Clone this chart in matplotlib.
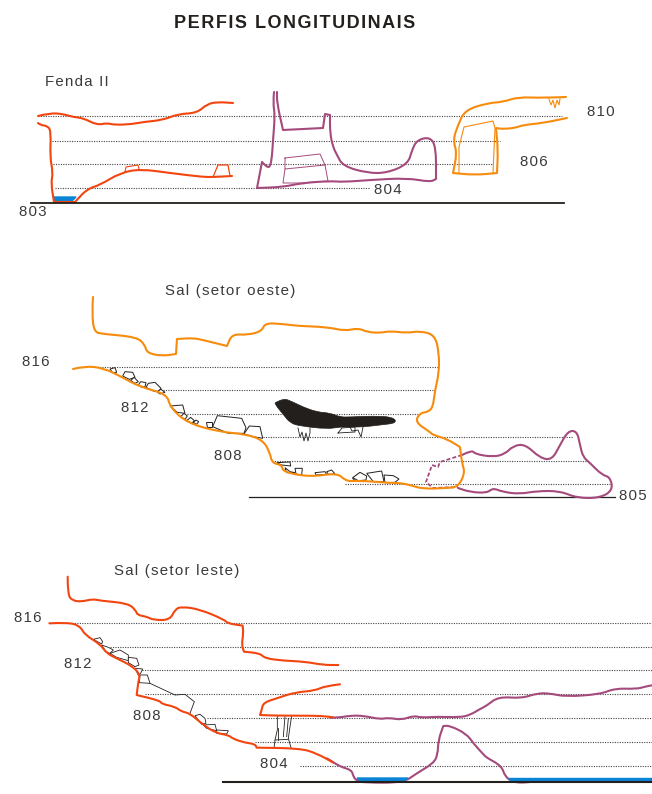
# Cave longitudinal profiles, traced by hand from the survey sheet
import numpy as np
import matplotlib
matplotlib.use("Agg")
import matplotlib.pyplot as plt
from matplotlib.path import Path
from matplotlib.patches import PathPatch

plt.rcParams['font.family'] = ['Liberation Sans', 'DejaVu Sans']

RED = '#F2450F'
PURPLE = '#A54A7C'
ORANGE = '#F68B0C'
BLUE = '#0A84D6'
INK = '#231F1C'
TEXT = '#3A3A3A'


# traces read off zoomed crops, crop() puts them back on the sheet pixels
# a point given twice is a hard corner in the drawing
def crop(pts, x0, y0):
    return [(x0 + p[0] / 3, y0 + p[1] / 3) for p in pts]


# ---- Fenda II ----
fenda_ceiling = [(38,116),(50,113),(63,114),(73,117),(83,118),(97,125),(107,123),(115,125),(133,124),
                 (143,122),(163,120),(178,114),(197,113),(207,104),(218,102),(233,103)]
fenda_floor = [(38,123),(40,125),(48,126),(51,132),(50,157),(53,173),(51,183),(54,202),(54,202),(75,202),(75,202),
               (87,189),(100,185),(120,173),(140,169),(170,173),(203,177),(213,177),(232,176)]
fenda_box1 = [(125,172),(126,167),(138,165),(139,169)]
fenda_box2 = [(213,177),(218,165),(228,165),(230,176)]
fenda_water = [(54,197),(76,197),(72,201),(55,201)]
p804 = [(274,92),(273,103),(275,115),(273,140),(272,157),(270,167),(267,167),(262,162),(262,162),(257,188),(257,188),
        (283,187),(302,183),(330,181),(343,182),(370,180),(407,178),(430,182),(436,179),(436,179),(436,147),(430,137),
        (417,140),(412,150),(408,164),(387,173),(367,173),(343,166),(337,155),(333,147),(330,133),(330,115),(330,115),
        (325,114),(325,114),(323,128),(323,128),(283,130),(283,130),(277,103),(277,92)]
p804_inner1 = [(285,158),(320,154),(325,165),(285,169),(285,158)]
p804_inner2 = [(285,169),(283,183),(302,183),(328,181),(325,165)]
p810 = [(566,97),(543,98),(518,97),(503,102),(488,103),(465,110),(458,125),(453,140),(457,153),(453,173),(453,173),
        (475,175),(497,173),(497,173),(498,150),(496,128),(496,128),(502,129),(515,128),(523,125),(543,123),(567,118)]
p806_inner = [(459,173),(459,147),(464,127),(493,121),(495,128),(493,173)]
p810_drip = [(549,99),(551,105),(553,100),(555,108),(557,100),(559,105),(560,99)]

# ---- Sal (setor oeste) ----
oeste_ceiling = [(93,297),(92,313),(94,332),(103,334),(137,337),(145,345),(147,353),(162,356),(176,354),(176,354),
                 (177,339),(177,339),(193,338),(203,340),(227,346),(227,346),(232,334),(248,335),(262,331),(265,323),
                 (283,324),(298,326),(327,327),(345,331),(358,328),(367,332),(380,333),(390,331),(407,333),(420,331),
                 (435,335),(439,353),(439,373),(435,390),(433,407),(428,412),(420,413),(415,422),(430,432),
                 (433,435),(447,439),(460,447),(460,447),(462,463),(465,473),(458,487),(447,488),(423,489),(410,485),
                 (400,483),(390,483),(367,481),(350,481)]
oeste_floor = [(73,369),(85,366),(103,368),(120,376),(140,387),(167,394),(170,407),(187,423),(220,432),
               (245,434),(263,440),(270,453),(272,463),(282,465),(283,472),(310,477),(337,473),(345,480),(350,481)]
p805 = [(462,455),(472,450),(475,454),(493,457),(505,454),(513,446),(525,444),(540,458),(552,460),(560,445),
        (568,431),(577,431),(580,445),(583,457),(590,463),(602,475),(610,477),(613,490),(600,498),(577,498),
        (560,491),(537,491),(520,494),(503,492),(493,488),(487,493),(470,492),(458,488)]
p805_dashed = [(462,455),(440,462),(438,467),(432,465),(426,482),(433,488),(458,487)]
black_gallery = [(275,403),(283,398),(293,402),(303,407),(317,412),(330,413),(340,417),(350,417),(373,416),
                 (393,417),(397,423),(380,425),(363,427),(350,427),(340,427),(327,429),(300,426),(290,423),
                 (283,414),(277,407)]
gallery_drips = [[(298,428),(300,437),(302,432),(304,441),(306,433),(308,441),(310,433),(310,428)],
                 [(338,433),(342,428),(355,427),(355,432),(338,433)],
                 [(350,427),(352,431),(358,430),(361,437),(363,427)]]
oeste_blocks_a = [[(150,237),(165,233),(170,247),(158,248)],
                  [(188,258),(195,245),(218,247),(225,262),(208,268)],
                  [(212,272),(222,262),(235,275),(225,280)],
                  [(235,285),(242,275),(258,278),(255,290),(245,292)],
                  [(258,292),(265,280),(285,277),(303,295),(295,305),(280,303)],
                  [(290,305),(303,298),(315,307),(300,312)],
                  [(330,348),(368,345),(375,370),(352,367)],
                  [(362,380),(372,370),(382,378),(375,388)],
                  [(380,392),(392,382),(403,392),(395,400)],
                  [(400,398),(408,390),(416,395),(410,403)],
                  [(438,395),(455,395),(455,410),(440,410)],
                  [(458,410),(472,377),(545,385),(558,413),(552,430),(505,430)],
                  [(552,432),(568,408),(600,410),(608,445),(580,440)],
                  [(650,518),(690,516),(692,528),(665,525)],
                  [(675,533),(690,545),(705,548),(680,548)],
                  [(705,535),(727,535),(725,555),(708,552)],
                  [(765,548),(795,545),(800,553),(768,555)],
                  [(800,545),(815,540),(825,552),(805,553)],
                  [(878,565),(900,548),(900,570),(885,572)]]
oeste_blocks_b = [[(8,503),(30,487),(50,498),(48,510),(25,512)],
                  [(50,490),(95,483),(102,515),(70,515)],
                  [(102,495),(130,497),(147,507),(135,517),(105,518)]]

# ---- Sal (setor leste) ----
leste_ceiling = crop([(203,20),(203,75),(218,92),(245,95),(278,87),(300,92),(385,100),(408,122),(412,135),
                      (440,140),(460,150),(510,150),(525,118),(545,110),(600,118),(675,150),(682,160),(728,167),(728,167),
                      (730,190),(725,225),(732,245),(732,245),(780,250),(795,265),(850,272),(915,275),(970,285),(1015,285)], 0, 570)
leste_floor = crop([(148,160),(205,157),(240,168),(255,195),(300,222),(320,250),(350,265),(400,290),(420,315),(415,335),
                    (410,375),(410,375),(480,392),(485,402),(525,410),(545,425),(570,430),(610,465),(650,490),(685,495),
                    (700,507),(735,518),(765,522),(770,533),(770,533),(900,535),(950,550),(1000,578)], 0, 570)
leste_upper = crop([(1020,343),(975,348),(945,362),(885,367),(830,385),(790,398),(785,420),(780,435),(780,435),(830,437),
                    (950,437),(985,440),(1000,442)], 0, 570)
leste_purple_top = crop([(0,173),(25,173),(60,167),(100,167),(150,178),(175,173),(215,180),(250,167),(275,173),
                         (320,170),(390,172),(420,165),(450,147),(470,137),(505,110),(575,115),(620,100),(660,100),
                         (705,110),(810,103),(855,85),(920,87),(945,80),(966,76)], 330, 660)
leste_purple_low = crop([(-10,295),(0,300),(30,320),(65,330),(70,350),(80,362),(105,368),(220,368),(260,340),
                         (310,310),(323,285),(325,240),(340,198),(340,198),(360,197),(410,222),(430,250),(462,285),(470,293),
                         (515,318),(525,350),(550,367),(590,368),(620,362)], 330, 660)
leste_water = [[(357,778),(408,778),(404,781),(360,781)], [(508,778),(652,778),(652,781),(512,781)]]
leste_blocks = [[(280,208),(300,203),(308,215),(305,222)],
                [(305,225),(325,232),(340,240),(330,250),(318,245)],
                [(330,250),(360,240),(385,255),(385,272),(350,262)],
                [(385,262),(410,265),(417,285),(405,290),(385,278)],
                [(405,295),(428,297),(422,310),(415,315)],
                [(420,315),(442,315),(450,340),(418,338)],
                [(585,437),(600,433),(615,445),(618,460),(605,463)],
                [(610,465),(645,463),(650,482),(620,475)],
                [(650,480),(685,482),(680,492),(650,490)]]
leste_lines = [[(450,340),(525,375),(555,373),(583,395),(570,430)],
               [(832,437),(832,480),(825,510),(822,535)],
               [(875,437),(870,470),(865,505),(873,533)],
               [(825,510),(865,508)],
               [(855,440),(850,500)],
               [(865,445),(860,500)],
               [(835,475),(835,510)]]

# level lines: height, start, end
levels_fenda = [(116,38,562), (141,52,500), (164,53,493), (188,55,369)]
levels_oeste = [(367,97,438), (390,163,433), (414,187,418), (437,263,573), (461,272,587), (484,345,610)]
levels_leste = [(623,50,652), (647,110,652), (670,142,652), (694,145,652), (718,207,652), (742,255,652), (766,300,652)]

# labels: text, left edge, middle height
labels = [("Fenda II",45,82), ("803",19,212), ("804",374,189), ("810",587,112), ("806",520,161),
          ("Sal (setor oeste)",165,291), ("816",22,362), ("812",121,408), ("808",214,456), ("805",619,496),
          ("Sal (setor leste)",114,570), ("816",14,617), ("812",64,663), ("808",133,715), ("804",260,763)]


def spaced(s):
    return '\u200a'.join(s)


# hand drawn look: corners rounded with quadratic path segments
def soft_path(pts):
    a = np.array(pts, dtype=float)
    verts = [a[0]]
    codes = [Path.MOVETO]
    for i in range(1, len(a) - 1):
        verts += [a[i], (a[i] + a[i + 1]) / 2]
        codes += [Path.CURVE3, Path.CURVE3]
    verts.append(a[-1])
    codes.append(Path.LINETO)
    return Path(verts, codes)


def trace(pts, color, lw=1.5, zorder=3):
    ax.add_patch(PathPatch(soft_path(pts), fc='none', ec=color, lw=lw, joinstyle='round',
                           capstyle='round', zorder=zorder))


def thin(pts, color, lw=0.8):
    ax.plot(*zip(*pts), color=color, lw=lw, solid_joinstyle='miter', zorder=3)


fig = plt.figure(figsize=(6.52, 7.94), dpi=100)
ax = fig.add_axes([0, 0, 1, 1])
ax.set_xlim(0, 652)
ax.set_ylim(794, 0)
ax.axis('off')

for y, x0, x1 in levels_fenda + levels_oeste + levels_leste:
    ax.plot([x0, x1], [y, y], color='#444444', lw=0.8, ls=(0, (1, 1.2)), zorder=1)

# base lines
ax.plot([31, 564], [203, 203], color=INK, lw=1.3, zorder=6)
ax.plot([249, 615], [497, 497], color=INK, lw=0.9, zorder=2)
ax.plot([223, 652], [782.2, 782.2], color=INK, lw=1.5, zorder=6)

# Fenda II
ax.fill(*zip(*fenda_water), color=BLUE, zorder=2)
trace(fenda_ceiling, RED)
trace(fenda_floor, RED)
thin(fenda_box1, RED)
thin(fenda_box2, RED, lw=0.9)
trace(p804, PURPLE)
thin(p804_inner1, PURPLE, lw=0.7)
thin(p804_inner2, PURPLE, lw=0.7)
trace(p810, ORANGE)
thin(p806_inner, ORANGE)
thin(p810_drip, ORANGE)

# Sal oeste
gallery_path = soft_path(black_gallery + black_gallery[:1])
ax.add_patch(PathPatch(gallery_path, fc=INK, ec=INK, lw=0.5, zorder=3))
for d in gallery_drips:
    ax.plot(*zip(*d), color=INK, lw=0.6, zorder=2)
for b in oeste_blocks_a:
    ax.fill(*zip(*crop(b, 60, 290)), fc='white', ec=INK, lw=0.7, zorder=2)
for b in oeste_blocks_b:
    ax.fill(*zip(*crop(b, 350, 310)), fc='white', ec=INK, lw=0.7, zorder=2)
trace(oeste_ceiling, ORANGE, zorder=4)
trace(oeste_floor, ORANGE, zorder=4)
trace(p805, PURPLE)
ax.plot(*zip(*p805_dashed), color=PURPLE, lw=1.3, ls=(0, (2.2, 1.2)), zorder=3)

# Sal leste
for b in leste_blocks:
    ax.fill(*zip(*crop(b, 0, 570)), fc='white', ec=INK, lw=0.6, zorder=2)
for l in leste_lines:
    ax.plot(*zip(*crop(l, 0, 570)), color=INK, lw=0.6, zorder=2)
trace(leste_ceiling, RED, zorder=4)
trace(leste_floor, RED, zorder=4)
trace(leste_upper, RED, zorder=4)
trace(leste_purple_top, PURPLE)
trace(leste_purple_low, PURPLE)
for w in leste_water:
    ax.fill(*zip(*w), color=BLUE, zorder=5)

ax.text(174, 23, spaced("PERFIS LONGITUDINAIS"), fontsize=13, fontweight='bold', color=INK, va='center', ha='left')
for s, x, y in labels:
    ax.text(x, y + 0.5, spaced(s), fontsize=10.8, color=TEXT, va='center', ha='left')

fig.savefig("out.png", dpi=100)
